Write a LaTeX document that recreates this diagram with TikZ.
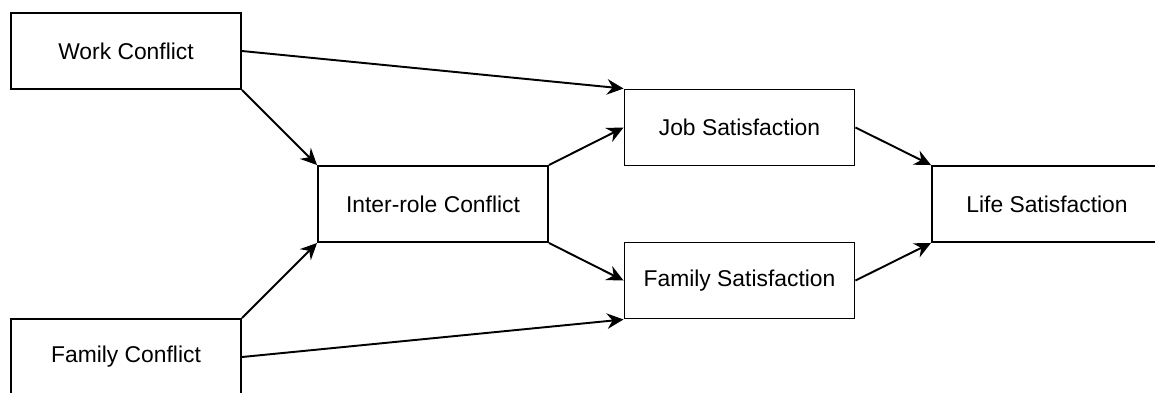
\documentclass[tikz,border=0pt]{standalone}
\usepackage{fontspec}
\setmainfont{Liberation Sans}
\usetikzlibrary{positioning,arrows.meta}
\tikzset{
  factor/.style={draw=black, fill=white, line width=1.1pt, align=center,
                 font=\fontsize{13}{15}\selectfont,
                 minimum width=4.6cm, minimum height=1.52cm, inner sep=0pt},
  effect/.style={-{Stealth[length=3.3mm, width=3.1mm, inset=1.1mm]}, line width=1.1pt, draw=black},
}
\newcommand{\ColA}{2.52}
\newcommand{\ColB}{8.66}
\newcommand{\ColC}{14.79}
\newcommand{\ColD}{20.94}

\begin{document}
\begin{tikzpicture}
    \useasboundingbox (0,0) rectangle (23.1,-7.84);
    \clip (0,0) rectangle (23.1,-7.84);

      \node[factor] (work)   at (\ColA,-1.02) {Work Conflict};
      \node[factor] (family) at (\ColA,-7.14) {Family Conflict};
      \node[factor] (inter)  at (\ColB,-4.08) {Inter-role Conflict};
      \node[factor] (job)    at (\ColC,-2.55) {Job Satisfaction};
      \node[factor] (famsat) at (\ColC,-5.61) {Family Satisfaction};
      \node[factor] (life)   at (\ColD,-4.08) {Life Satisfaction};

      \draw[effect] (work.east) -- (job.north west);
      \draw[effect] (work.south east) -- (inter.north west);
      \draw[effect] (family.north east) -- (inter.south west);
      \draw[effect] (family.east) -- (famsat.south west);

      \draw[effect] (inter.north east) -- (job.west);
      \draw[effect] (inter.south east) -- (famsat.west);

      \draw[effect] (job.east) -- (life.north west);
      \draw[effect] (famsat.east) -- (life.south west);

\end{tikzpicture}
\end{document}
